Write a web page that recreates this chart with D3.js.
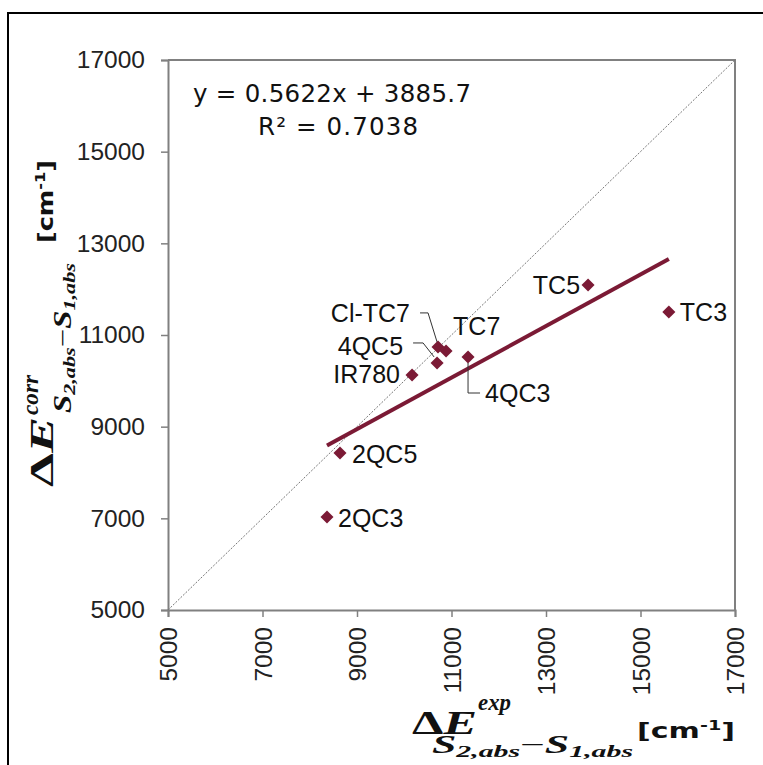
<!DOCTYPE html>
<html>
<head>
<meta charset="utf-8">
<script src="https://cdn.jsdelivr.net/npm/d3@7"></script>
<style>
  body { margin: 0; background: #fff; }
  svg { display: block; }
</style>
</head>
<body>
<div id="chart"></div>
<script>
// Data
const compounds = ["TC5", "TC3", "Cl-TC7", "TC7", "4QC5", "IR780", "4QC3", "2QC5", "2QC3"];
const expValues = [13890, 15600, 10715, 10885, 10695, 10165, 11350, 8640, 8365];
const corrValues = [12090, 11500, 10740, 10650, 10390, 10125, 10520, 8425, 7030];
const tickValues = [5000, 7000, 9000, 11000, 13000, 15000, 17000];
const fitSlope = 0.5622;
const fitIntercept = 3885.7;
const fitLabel = "y = 0.5622x + 3885.7";
const r2Label = "R² = 0.7038";

// label layout: offset from the marker, anchor, optional leader line
const labelLayout = [
  { dx: -8, dy: 9, anchor: "end" },
  { dx: 11, dy: 9, anchor: "start" },
  { dx: -28, dy: -25, anchor: "end", leader: [[-18, -34], [-10, -34], [-1, -5]] },
  { dx: 7, dy: -16, anchor: "start" },
  { dx: -34, dy: -8, anchor: "end", leader: [[-24, -20], [-14, -20], [-3, -6]] },
  { dx: -12, dy: 8, anchor: "end" },
  { dx: 17, dy: 45, anchor: "start", leader: [[0, 6], [0, 36], [12, 36]] },
  { dx: 12, dy: 10, anchor: "start" },
  { dx: 11, dy: 10, anchor: "start" }
];

const W = 763, H = 765;
const plot = { left: 168, right: 735, top: 60, bottom: 610 };
const maroon = "#7b1a35";
const axisGrey = "#808080";

const svg = d3.select("#chart")
  .append("svg")
  .attr("width", W)
  .attr("height", H);

// outer frame (only left and top edges visible)
svg.append("path")
  .attr("d", `M8,${H} L8,13 L${W},13`)
  .attr("fill", "none")
  .attr("stroke", "#000")
  .attr("stroke-width", 2);

const x = d3.scaleLinear().domain([5000, 17000]).range([plot.left, plot.right]);
const y = d3.scaleLinear().domain([5000, 17000]).range([plot.bottom, plot.top]);

// axes
const xAxis = svg.append("g")
  .attr("transform", `translate(0,${plot.bottom})`)
  .call(d3.axisBottom(x).tickValues(tickValues).tickSize(7).tickFormat(d3.format("d")));
xAxis.selectAll("text")
  .attr("transform", "rotate(-90)")
  .attr("x", -17)
  .attr("y", 0)
  .attr("dy", "0.35em")
  .style("text-anchor", "end");

const yAxis = svg.append("g")
  .attr("transform", `translate(${plot.left},0)`)
  .call(d3.axisLeft(y).tickValues(tickValues).tickSize(7).tickFormat(d3.format("d")));
yAxis.selectAll("text").attr("x", -23);

svg.selectAll(".domain").attr("stroke", axisGrey).attr("stroke-width", 2);
svg.selectAll(".tick line").attr("stroke", axisGrey).attr("stroke-width", 1.5);
svg.selectAll(".tick text")
  .attr("fill", "#222")
  .style("font-family", "'Liberation Sans', Arial, sans-serif")
  .style("font-size", "24.5px");

// top and right frame of plot area
svg.append("path")
  .attr("d", `M${x(5000)},${y(17000)} L${x(17000)},${y(17000)} L${x(17000)},${y(5000)}`)
  .attr("fill", "none")
  .attr("stroke", axisGrey)
  .attr("stroke-width", 2);

// identity line
svg.append("line")
  .attr("x1", x(5000)).attr("y1", y(5000))
  .attr("x2", x(17000)).attr("y2", y(17000))
  .attr("stroke", "#777")
  .attr("stroke-width", 1)
  .attr("stroke-dasharray", "2,1.5");

// linear fit
const fitX = d3.extent(expValues);
svg.append("line")
  .attr("x1", x(fitX[0])).attr("y1", y(fitSlope * fitX[0] + fitIntercept))
  .attr("x2", x(fitX[1])).attr("y2", y(fitSlope * fitX[1] + fitIntercept))
  .attr("stroke", maroon)
  .attr("stroke-width", 4);

// markers
const points = compounds.map((name, i) => ({ name, ex: expValues[i], co: corrValues[i], lay: labelLayout[i] }));
svg.selectAll(".pt")
  .data(points)
  .join("path")
  .attr("class", "pt")
  .attr("d", d3.symbol(d3.symbolSquare, 85))
  .attr("transform", d => `translate(${x(d.ex)},${y(d.co)}) rotate(45)`)
  .attr("fill", maroon);

// leader lines
svg.selectAll(".leader")
  .data(points.filter(d => d.lay.leader))
  .join("path")
  .attr("class", "leader")
  .attr("d", d => d3.line()(d.lay.leader.map(p => [x(d.ex) + p[0], y(d.co) + p[1]])))
  .attr("fill", "none")
  .attr("stroke", "#333")
  .attr("stroke-width", 1);

// labels
svg.selectAll(".lbl")
  .data(points)
  .join("text")
  .attr("class", "lbl")
  .attr("x", d => x(d.ex) + d.lay.dx)
  .attr("y", d => y(d.co) + d.lay.dy)
  .attr("text-anchor", d => d.lay.anchor)
  .attr("fill", "#111")
  .style("font-family", "'Liberation Sans', Arial, sans-serif")
  .style("font-size", "25px")
  .text(d => d.name);

// equation
svg.append("text")
  .attr("x", 193).attr("y", 102)
  .attr("fill", "#111")
  .style("font-family", "'DejaVu Sans', Verdana, sans-serif")
  .style("font-size", "24.5px")
  .attr("textLength", 278)
  .text(fitLabel);
svg.append("text")
  .attr("x", 258).attr("y", 135)
  .attr("fill", "#111")
  .style("font-family", "'DejaVu Sans', Verdana, sans-serif")
  .style("font-size", "24.5px")
  .attr("textLength", 160)
  .text(r2Label);

// axis titles built from pieces
const serif = "'Liberation Serif', 'DejaVu Serif', serif";
function deltaE(g, px, py, size, len) {
  const t = g.append("text")
    .attr("x", px).attr("y", py)
    .attr("textLength", len)
    .attr("lengthAdjust", "spacingAndGlyphs")
    .attr("fill", "#111")
    .style("font-family", serif)
    .style("font-weight", "bold")
    .style("font-size", size + "px");
  t.append("tspan").text("Δ");
  t.append("tspan").style("font-style", "italic").text("E");
}
function sup(g, txt, px, py, size, len) {
  g.append("text")
    .attr("x", px).attr("y", py)
    .attr("textLength", len)
    .attr("lengthAdjust", "spacingAndGlyphs")
    .attr("fill", "#111")
    .style("font-family", serif)
    .style("font-weight", "bold")
    .style("font-style", "italic")
    .style("font-size", size + "px")
    .text(txt);
}
function subscript(g, px, py, total) {
  const t = g.append("text")
    .attr("x", px).attr("y", py)
    .attr("textLength", total)
    .attr("lengthAdjust", "spacingAndGlyphs")
    .attr("fill", "#111")
    .style("font-family", serif)
    .style("font-weight", "bold")
    .style("font-size", "25px");
  t.append("tspan").style("font-style", "italic").text("S");
  t.append("tspan").attr("dy", 4).style("font-size", "17px").style("font-style", "italic").text("2,abs");
  t.append("tspan").attr("dy", -4).style("font-weight", "normal").text("−");
  t.append("tspan").style("font-style", "italic").text("S");
  t.append("tspan").attr("dy", 4).style("font-size", "17px").style("font-style", "italic").text("1,abs");
}
const unitFont = "'DejaVu Sans', Verdana, sans-serif";
function unit(g, px, py, len) {
  const t = g.append("text")
    .attr("x", px).attr("y", py)
    .attr("textLength", len)
    .attr("lengthAdjust", "spacingAndGlyphs")
    .attr("fill", "#111")
    .style("font-family", unitFont)
    .style("font-weight", "bold")
    .style("font-size", "22px");
  t.append("tspan").text("[cm");
  t.append("tspan").attr("dy", -8).style("font-size", "14px").text("-1");
  t.append("tspan").attr("dy", 8).text("]");
}

// x title
const xt = svg.append("g");
deltaE(xt, 412, 734, 34, 65);
sup(xt, "exp", 478, 710, 23, 33);
subscript(xt, 432, 753, 201);
unit(xt, 637, 738, 98);

// y title
const yt = svg.append("g").attr("transform", "translate(53,487) rotate(-90)");
deltaE(yt, 0, 0, 34, 70);
sup(yt, "corr", 72, -15, 23, 40);
subscript(yt, 74, 18, 150);
unit(yt, 244, 0, 83);
</script>
</body>
</html>
